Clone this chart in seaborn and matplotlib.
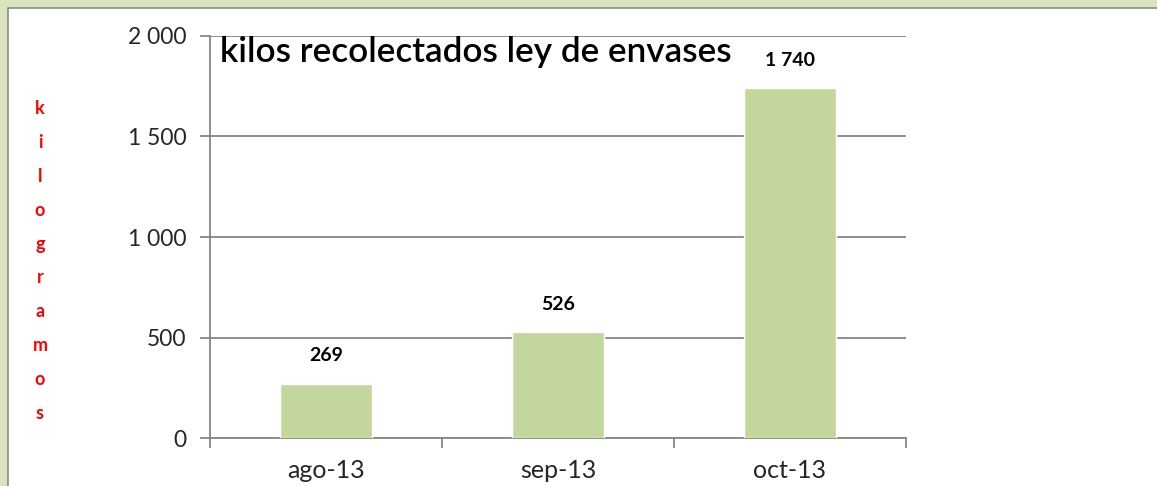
import matplotlib
matplotlib.use('Agg')
import matplotlib.pyplot as plt
from matplotlib.patches import Rectangle
from matplotlib.ticker import FuncFormatter, FixedLocator
import seaborn as sns
import pandas as pd

# datos
meses = ['ago-13', 'sep-13', 'oct-13']
kilos = [269, 526, 1740]
titulo = 'kilos recolectados ley de envases'
etiqueta_y = 'kilogramos'

sns.set_style('white')
plt.rcParams['font.family'] = ['Lato', 'DejaVu Sans']

df = pd.DataFrame({'mes': meses, 'kilos': kilos})

fig = plt.figure(figsize=(11.57, 4.86), dpi=100)
fig.patch.set_facecolor('#d7e4bd')
# marco blanco interior
fig.patches.append(Rectangle((8 / 1157, -0.1), 1.2, 1.1 - 8 / 486,
                             transform=fig.transFigure, facecolor='white',
                             edgecolor='#8c8c8c', linewidth=1.2, zorder=-10))

ax = fig.add_axes([210 / 1157, 48 / 486, 696 / 1157, 402 / 486])
ax.set_facecolor('none')

sns.barplot(data=df, x='mes', y='kilos', color='#c3d69b', width=0.4,
            saturation=1, ax=ax, zorder=3)

ax.set_ylim(0, 2000)
ax.set_xlim(-0.5, 2.5)
ax.set_yticks([0, 500, 1000, 1500, 2000])
ax.yaxis.set_major_formatter(FuncFormatter(lambda v, p: f'{int(v):,}'.replace(',', ' ')))
ax.grid(axis='y', color='#868686', linewidth=1.3, zorder=0)
ax.set_axisbelow(True)

for s in ['top', 'right']:
    ax.spines[s].set_visible(False)
for s in ['left', 'bottom']:
    ax.spines[s].set_color('#868686')
    ax.spines[s].set_linewidth(1.3)

ax.tick_params(axis='y', left=True, length=7, width=1.3, color='#868686',
               labelsize=16.5, pad=10)
ax.tick_params(axis='x', which='major', bottom=True, length=0, labelsize=18, pad=15)
ax.xaxis.set_minor_locator(FixedLocator([-0.5, 0.5, 1.5, 2.5]))
ax.tick_params(axis='x', which='minor', bottom=True, length=7, width=1.3, color='#868686')
ax.set_xlabel('')
ax.set_ylabel('')

etiquetas = [f'{v:,}'.replace(',', ' ') for v in kilos]
ax.bar_label(ax.containers[0], labels=etiquetas, padding=14,
             fontsize=14, fontweight='bold', color='black')

ax.text(0.015, 1.0, titulo, transform=ax.transAxes, ha='left', va='top',
        fontsize=25.3, fontweight='semibold', color='black')

fig.text(40 / 1157, 1 - 261 / 486, '\n'.join(etiqueta_y), ha='center', va='center',
         color='red', fontsize=13, fontweight='bold', linespacing=2.21)

fig.savefig('out.png', dpi=100, facecolor=fig.get_facecolor())
